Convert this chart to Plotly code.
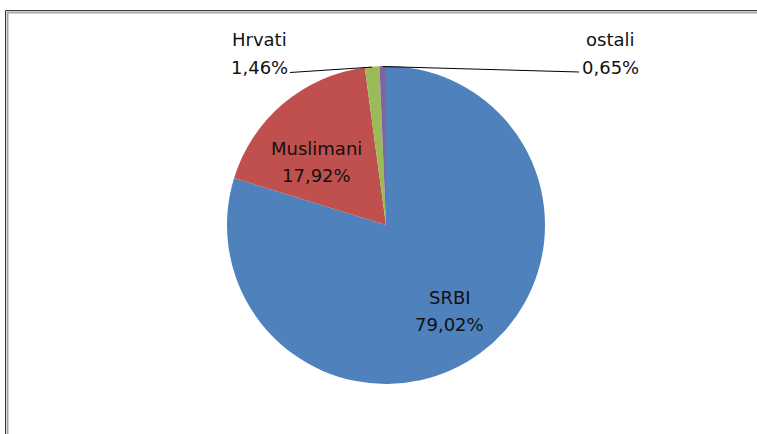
import math
import plotly.graph_objects as go

# ---- data ----
labels = ["SRBI", "Muslimani", "Hrvati", "ostali"]
values = [79.02, 17.92, 1.46, 0.65]
colors = ["#4F81BD", "#C0504D", "#9BBB59", "#8064A2"]

W, H = 757, 434
CX, CY, R = 386.0, 225.0, 159.0  # pie centre / radius in px


def px(x):
    return x / W


def py(y):
    return 1 - y / H


def fmt(v):
    return f"{v:.2f}".replace(".", ",") + "%"


fig = go.Figure(go.Pie(
    labels=labels,
    values=values,
    marker=dict(colors=colors, line=dict(width=0)),
    sort=False,
    direction="clockwise",
    rotation=0,
    textinfo="none",
    hoverinfo="label+percent",
    showlegend=False,
    domain=dict(x=[px(CX - R), px(CX + R)], y=[py(CY + R), py(CY - R)]),
))

total = sum(values)
cum = 0.0
mids = []
for v in values:
    mids.append((cum + v / 2) / total * 2 * math.pi)
    cum += v


def pt(theta, rr):
    return CX + rr * math.sin(theta), CY - rr * math.cos(theta)


FONT = dict(family="DejaVu Sans", size=18, color="#111111")
ann = []
shapes = []

# inside labels: (radius fraction, angular tweak in degrees)
inside = {0: (0.675, 0.0), 1: (0.59, -7.8)}
for i, (fr, tweak) in inside.items():
    x, y = pt(mids[i] + math.radians(tweak), R * fr)
    for dy, t in ((-13.5, labels[i]), (13.5, fmt(values[i]))):
        ann.append(dict(x=px(x), y=py(y + dy), xref="paper", yref="paper",
                        text=t, showarrow=False, font=FONT,
                        xanchor="center", yanchor="middle"))

# outside labels with leader lines
outside = {2: dict(anchor=(290, 72.5), tx=259),
           3: dict(anchor=(579, 72.0), tx=610)}
for i, o in outside.items():
    ex, ey = pt(mids[i], R)
    ax_, ay_ = o["anchor"]
    shapes.append(dict(type="line", xref="paper", yref="paper",
                       x0=px(ax_), y0=py(ay_), x1=px(ex), y1=py(ey + 0.5),
                       line=dict(color="#000000", width=1)))
    ann.append(dict(x=px(o["tx"]), y=py(39), xref="paper", yref="paper",
                    text=labels[i], showarrow=False, font=FONT,
                    xanchor="center", yanchor="middle"))
    ann.append(dict(x=px(o["tx"]), y=py(67), xref="paper", yref="paper",
                    text=fmt(values[i]), showarrow=False, font=FONT,
                    xanchor="center", yanchor="middle"))

# chart frame (double line)
shapes.append(dict(type="rect", xref="paper", yref="paper",
                   x0=px(5.5), y0=-0.2, x1=1.2, y1=py(10.5),
                   line=dict(color="#3a3a3a", width=1), layer="below"))
shapes.append(dict(type="rect", xref="paper", yref="paper",
                   x0=px(7.5), y0=-0.2, x1=1.2, y1=py(12.5),
                   line=dict(color="#a8a8a8", width=2), layer="below"))

fig.update_layout(
    width=W, height=H,
    margin=dict(l=0, r=0, t=0, b=0),
    paper_bgcolor="white",
    plot_bgcolor="white",
    annotations=ann,
    shapes=shapes,
)

fig.write_html(
    "out.html",
    config={"displayModeBar": False},
    post_script="document.body.style.margin='0';document.body.style.overflow='hidden';",
)
